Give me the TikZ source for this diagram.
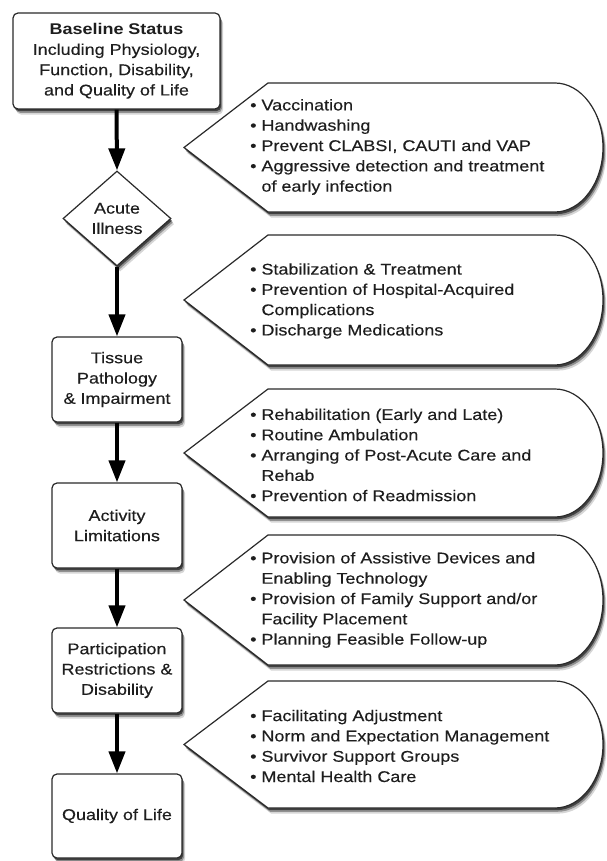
\documentclass[tikz,border=0pt]{standalone}
\usepackage{fontspec}
\setmainfont{Liberation Sans}[FakeStretch=1.16, UprightFeatures={FakeBold=0.3}]
\usetikzlibrary{arrows.meta,shapes.geometric,shadows}
\definecolor{edge}{HTML}{2A2A2A}
\definecolor{ink}{HTML}{1E1E1E}
\newcommand\mybul{\textbullet\ }
\newcommand\myind{\hphantom{\textbullet\ }}
\newcommand\calloutshape[2]{%
  \pgfmathsetmacro\cmid{(#1+#2)/2}%
  \pgfmathsetmacro\crad{(#2-#1)/2}%
  \draw[calloutstyle] (268,#1) -- (555,#1)
    .. controls (581,#1) and (603,{\cmid-0.5523*\crad}) .. (603,\cmid)
    .. controls (603,{\cmid+0.5523*\crad}) and (581,#2) .. (555,#2)
    -- (268,#2) -- (184,\cmid) -- cycle;}
\tikzset{
  softshadow/.style={
    general shadow={shadow xshift=1.2pt,shadow yshift=-2.2pt,fill=black,opacity=.55},
    general shadow={shadow xshift=2.2pt,shadow yshift=-3.8pt,fill=black,opacity=.32},
    general shadow={shadow xshift=3.2pt,shadow yshift=-5.6pt,fill=black,opacity=.16}},
  txt/.style={font=\fontsize{15.5pt}{20.3pt}\selectfont, text=ink},
  boxstyle/.style={draw=edge, line width=1.2pt, fill=white, rounded corners=5pt,
    softshadow, txt, align=center, inner sep=0pt},
  diastyle/.style={draw=edge, line width=1.2pt, fill=white, diamond, aspect=1.137,
    softshadow, txt, align=center, inner sep=0pt,
    minimum width=108pt, minimum height=95pt},
  calloutstyle/.style={draw=edge, line width=1.2pt, fill=white, softshadow},
  listtext/.style={txt, align=left, anchor=west, inner sep=0pt},
  flowarrow/.style={line width=4pt, black, -{Triangle[length=22pt,width=16pt]}}
}
\begin{document}
\begin{tikzpicture}[x=1pt,y=-1pt]
\useasboundingbox (0,0) rectangle (606,861);
\fill[white] (0,0) rectangle (606,861);

% callouts
\calloutshape{83}{212}
\calloutshape{235}{365}
\calloutshape{389}{517}
\calloutshape{535}{665}
\calloutshape{681}{808}

\node[listtext] (c1) at (250,147) {\mybul Vaccination\\ \mybul Handwashing\\ \mybul Prevent CLABSI, CAUTI and VAP\\ \mybul Aggressive detection and treatment\\ \myind of early infection};
\node[listtext] (c2) at (250,301) {\mybul Stabilization \& Treatment\\ \mybul Prevention of Hospital-Acquired\\ \myind Complications\\ \mybul Discharge Medications};
\node[listtext] (c3) at (250,455) {\mybul Rehabilitation (Early and Late)\\ \mybul Routine Ambulation\\ \mybul Arranging of Post-Acute Care and\\ \myind Rehab\\ \mybul Prevention of Readmission};
\node[listtext] (c4) at (250,600) {\mybul Provision of Assistive Devices and\\ \myind Enabling Technology\\ \mybul Provision of Family Support and/or\\ \myind Facility Placement\\ \mybul Planning Feasible Follow-up};
\node[listtext] (c5) at (250,746) {\mybul Facilitating Adjustment\\ \mybul Norm and Expectation Management\\ \mybul Survivor Support Groups\\ \mybul Mental Health Care};

% flow nodes
\node[boxstyle, minimum width=207pt, minimum height=96pt] (base) at (116.5,61)
  {\textbf{Baseline Status}\\ Including Physiology,\\ Function, Disability,\\ and Quality of Life};
\node[diastyle] (acute) at (117,218.5) {Acute\\ Illness};
\node[boxstyle, minimum width=130pt, minimum height=85pt] (tissue) at (117,379.5)
  {Tissue\\ Pathology\\ \& Impairment};
\node[boxstyle, minimum width=130pt, minimum height=85pt] (activity) at (117,525.5)
  {Activity\\ Limitations};
\node[boxstyle, minimum width=130pt, minimum height=85pt] (partic) at (117,670.5)
  {Participation\\ Restrictions \&\\ Disability};
\node[boxstyle, minimum width=130pt, minimum height=84pt] (qol) at (117,816)
  {Quality of Life};

% arrows
\draw[flowarrow] (base.south) -- (acute.north);
\draw[flowarrow] (acute.south) -- (tissue.north);
\draw[flowarrow] (tissue.south) -- (activity.north);
\draw[flowarrow] (activity.south) -- (partic.north);
\draw[flowarrow] (partic.south) -- (qol.north);
\end{tikzpicture}
\end{document}
